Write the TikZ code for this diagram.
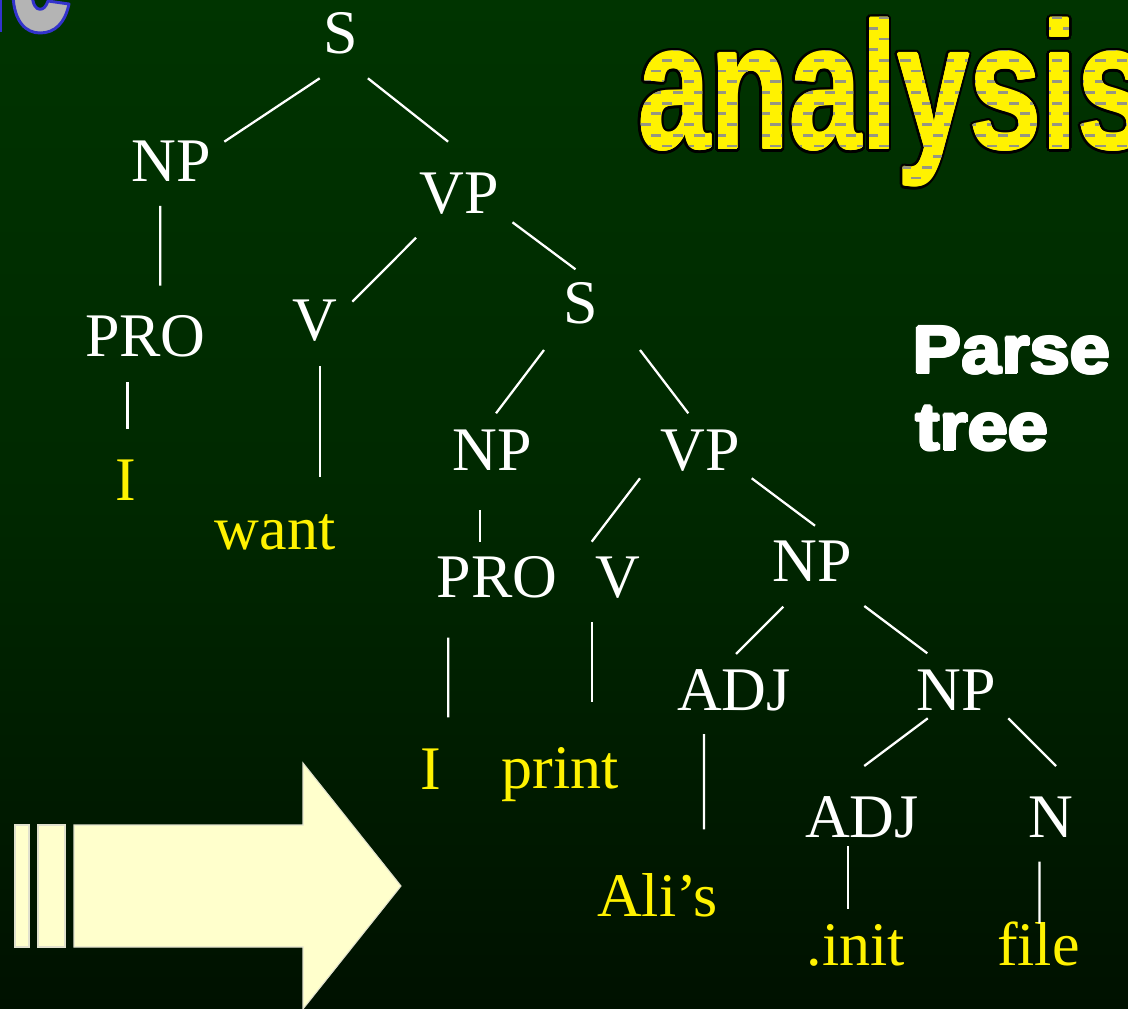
\documentclass[tikz,border=0pt]{standalone}
\usepackage{fontspec}
\usetikzlibrary{calc}
\newfontfamily\treefont{Liberation Serif}
\newfontfamily\headfont{Liberation Sans}
\definecolor{bgtop}{RGB}{0,52,0}
\definecolor{bgmid}{RGB}{0,40,0}
\definecolor{bgbot}{RGB}{0,17,0}
\definecolor{arrowfill}{RGB}{255,255,204}
\definecolor{arrowedge}{RGB}{225,225,205}
\definecolor{dashgray}{RGB}{150,150,130}
\definecolor{titlegray}{RGB}{180,180,180}
\definecolor{titleblue}{RGB}{51,51,204}
% the large title word, condensed
\newcommand{\anword}{\headfont\bfseries\fontsize{135}{140}\selectfont\scalebox{0.72}[1]{analysis}}
\tikzset{
  tn/.style={font=\treefont\fontsize{46.5}{50}\selectfont, text=white, inner sep=0pt, anchor=base},
  leaf/.style={tn, text=yellow},
  edge/.style={draw=white, line width=1.7pt},
  headtxt/.style={font=\headfont\bfseries\fontsize{50.25}{55}\selectfont, text=white, inner sep=0pt, anchor=base west, xscale=1.08, transform shape},
  antxt/.style={anchor=base, inner sep=0pt},
  arrowpart/.style={fill=arrowfill, draw=arrowedge, line width=0.8pt},
}
\begin{document}
\begin{tikzpicture}[x=0.75pt,y=-0.75pt]
\useasboundingbox (0,0) rectangle (1128,1009);
\begin{scope}
\clip (0,0) rectangle (1128,1009);
% background
\fill[top color=bgtop, bottom color=bgmid] (0,0) rectangle (1128,505);
\fill[top color=bgmid, bottom color=bgbot] (0,504) rectangle (1128,1009);

% tail of the title in the corner
\fill[titlegray, draw=titleblue, line width=2.2pt] (-30,-5) rectangle (0.8,31);
\fill[titlegray, draw=titleblue, line width=2.2pt, line join=round]
  (13,-5) .. controls (14,22) and (26,33) .. (40,33)
  .. controls (55,33) and (65,23) .. (69,4) -- (48,1)
  .. controls (46,7) and (43,9.3) .. (40,9.3)
  .. controls (36,9.3) and (33,5) .. (32,-5) -- cycle;

% title word: black outline, yellow body, rows of grey dashes inside the letters
\begin{scope}[shift={(893.8,149)}]
  \foreach \a [count=\i] in {0,22.5,...,337.5}
    \node[antxt, text=black] (anout\i) at (\a:3.6) {\anword};
  \foreach \a [count=\i] in {0,45,...,315}
    \node[antxt, text=yellow] (anbody\i) at (\a:1.0) {\anword};
  \node[antxt, text=yellow] (an) at (0,0) {\anword};
\end{scope}
\begin{scope}
  \clip \foreach \k in {-5,...,13} {
          \foreach \c in {-1,...,23} {
            ({661.7-10.8*mod(abs(\k),2)+21.67*\c},{60+10.7*\k-1.25}) rectangle ++(10,2.5)
          }
        };
  \begin{scope}[shift={(893.8,149)}]
    \foreach \a [count=\i] in {0,45,...,315}
      \node[antxt, text=dashgray] (andash\i) at (\a:1.0) {\anword};
    \node[antxt, text=dashgray] (andash) at (0,0) {\anword};
  \end{scope}
\end{scope}

% caption
\foreach \a [count=\i] in {0,45,...,315} {
  \node[headtxt] (parsew\i) at ($(913,373.3)+(\a:1.4)$) {Parse};
  \node[headtxt] (treew\i) at ($(915.5,450)+(\a:1.4)$) {tree};
}
\node[headtxt] (parse) at (913,373.3) {Parse};
\node[headtxt] (tree) at (915.5,450) {tree};

% arrow
\draw[arrowpart] (15,825) rectangle (29,947);
\draw[arrowpart] (38,825) rectangle (65,947);
\draw[arrowpart] (74,825) -- (303,825) -- (303,763) -- (401,886) -- (303,1009) -- (303,947) -- (74,947) -- cycle;

% tree labels
\node[tn] (S1) at (341,54) {S};
\node[tn] (NP1) at (171.5,181.7) {NP};
\node[tn] (VP1) at (459.6,213.3) {VP};
\node[tn] (PRO1) at (145.4,356.7) {PRO};
\node[tn] (V1) at (314.5,340.5) {V};
\node[tn] (S2) at (581,324) {S};
\node[leaf] (I1) at (126,500.7) {I};
\node[leaf] (want) at (275,549.3) {want};
\node[tn] (NP2) at (492.4,470) {NP};
\node[tn] (VP2) at (700,470) {VP};
\node[tn] (PRO2) at (497,597.3) {PRO};
\node[tn] (V2) at (618.3,597.5) {V};
\node[tn] (NP3) at (812,581.7) {NP};
\node[leaf] (I2) at (430.5,789.3) {I};
\node[leaf] (print) at (560,788.5) {print};
\node[tn] (ADJ1) at (734,710) {ADJ};
\node[tn] (NP4) at (956.3,710) {NP};
\node[tn] (ADJ2) at (862,837.7) {ADJ};
\node[tn] (N1) at (1050.6,837.7) {N};
\node[leaf] (alis) at (657.4,916.7) {Ali’s};
\node[leaf] (init) at (856,965) {.init};
\node[leaf] (file) at (1038.4,965) {file};

% tree branches
\draw[edge] ($(S1.base)+(-21.3,24.3)$) -- ($(NP1.base)+(52.8,-40)$);
\draw[edge] ($(S1.base)+(26.9,24.3)$) -- ($(VP1.base)+(-11.5,-71.6)$);
\draw[edge] ($(NP1.base)+(-11.3,24.3)$) -- ($(PRO1.base)+(14.8,-71)$);
\draw[edge] ($(VP1.base)+(-43.5,24.4)$) -- ($(V1.base)+(37.9,-38.8)$);
\draw[edge] ($(VP1.base)+(52.9,9)$) -- ($(S2.base)+(-5.5,-54.7)$);
\draw[edge] ($(PRO1.base)+(-17.9,25.6)$) -- ($(I1.base)+(1.5,-71.4)$);
\draw[edge] ($(V1.base)+(5.5,25.5)$) -- ($(want.base)+(45,-72)$);
\draw[edge] ($(S2.base)+(-37,26)$) -- ($(NP2.base)+(3.6,-56.7)$);
\draw[edge] ($(S2.base)+(59,26)$) -- ($(VP2.base)+(-11.7,-56.7)$);
\draw[edge] ($(NP2.base)+(-12.4,40)$) -- ($(PRO2.base)+(-17,-55.6)$);
\draw[edge] ($(VP2.base)+(-60,8.3)$) -- ($(V2.base)+(-26.6,-55.8)$);
\draw[edge] ($(VP2.base)+(51.7,8.3)$) -- ($(NP3.base)+(3,-56)$);
\draw[edge] ($(PRO2.base)+(-48.7,40.4)$) -- ($(I2.base)+(17.8,-72)$);
\draw[edge] ($(V2.base)+(-26.6,24.8)$) -- ($(print.base)+(31.7,-86.8)$);
\draw[edge] ($(NP3.base)+(-28.7,25)$) -- ($(ADJ1.base)+(2,-56)$);
\draw[edge] ($(NP3.base)+(52.3,24.3)$) -- ($(NP4.base)+(-29,-56.7)$);
\draw[edge] ($(ADJ1.base)+(-30,24)$) -- ($(alis.base)+(46.6,-87.4)$);
\draw[edge] ($(NP4.base)+(-28.5,8.3)$) -- ($(ADJ2.base)+(2.2,-71.7)$);
\draw[edge] ($(NP4.base)+(51.9,8.3)$) -- ($(N1.base)+(5.4,-71.7)$);
\draw[edge] ($(ADJ2.base)+(-14,8.3)$) -- ($(init.base)+(-8,-55.7)$);
\draw[edge] ($(N1.base)+(-11,24)$) -- ($(file.base)+(1.2,-41.7)$);
\end{scope}
\end{tikzpicture}
\end{document}
